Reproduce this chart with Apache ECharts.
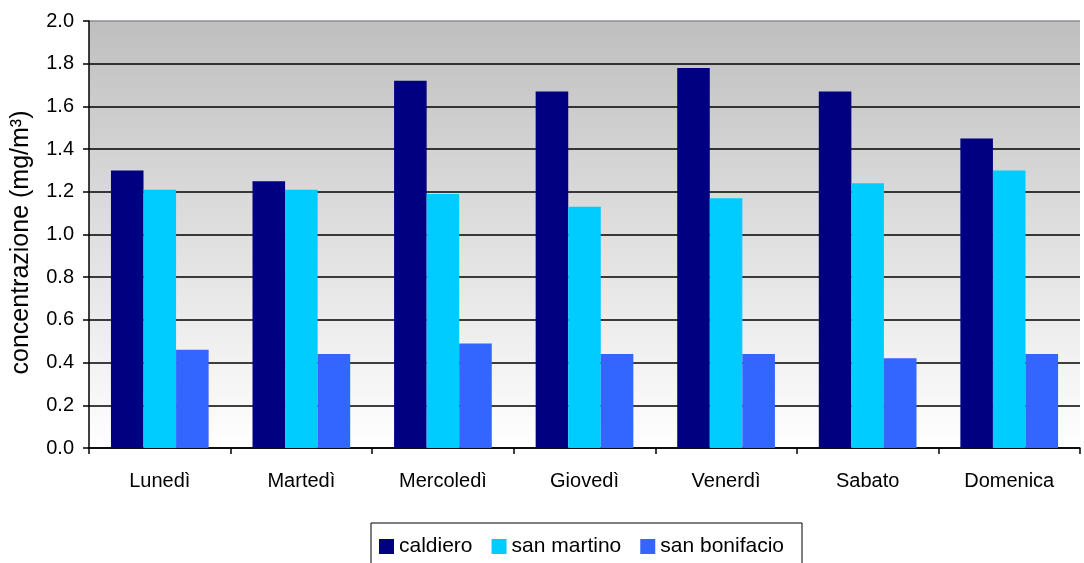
<!DOCTYPE html>
<html>
<head>
<meta charset="utf-8">
<script src="https://cdn.jsdelivr.net/npm/echarts@6/dist/echarts.min.js"></script>
<style>
  html, body { margin: 0; padding: 0; background: #fff; }
  #chart { width: 1084px; height: 563px; }
</style>
</head>
<body>
<div id="chart"></div>
<script>
// Giorni della settimana
const categories = ['Lunedì', 'Martedì', 'Mercoledì', 'Giovedì', 'Venerdì', 'Sabato', 'Domenica'];

// Concentrazione media giornaliera (mg/m³) per stazione
const caldiero = [1.30, 1.25, 1.72, 1.67, 1.78, 1.67, 1.45];
const sanMartino = [1.21, 1.21, 1.19, 1.13, 1.17, 1.24, 1.30];
const sanBonifacio = [0.46, 0.44, 0.49, 0.44, 0.44, 0.42, 0.44];

const seriesNames = ['caldiero', 'san martino', 'san bonifacio'];
const seriesColors = ['#000080', '#00CCFF', '#3366FF'];
const seriesData = [caldiero, sanMartino, sanBonifacio];

const FONT = '"Liberation Sans", Arial, sans-serif';

const chart = echarts.init(document.getElementById('chart'), null, { renderer: 'canvas' });

// colori delle linee di griglia: nere, tranne il bordo superiore (2.0) grigio
const gridLineColors = ['#000', '#000', '#000', '#000', '#000', '#000', '#000', '#000', '#000', '#000', '#8c8c99'];

chart.setOption({
  animation: false,
  backgroundColor: '#ffffff',
  grid: {
    left: 89, right: 4, top: 21, bottom: 115,
    show: true,
    borderWidth: 0,
    backgroundColor: new echarts.graphic.LinearGradient(0, 0, 0, 1, [
      { offset: 0, color: '#bfbfbf' },
      { offset: 1, color: '#ffffff' }
    ])
  },
  legend: {
    left: 371,
    top: 523,
    itemWidth: 15,
    itemHeight: 15,
    itemGap: 19,
    icon: 'rect',
    padding: [13, 18, 20, 8],
    borderColor: '#000',
    borderWidth: 1,
    borderRadius: 0,
    textStyle: { fontFamily: FONT, fontSize: 21, color: '#000' },
    data: seriesNames
  },
  xAxis: {
    type: 'category',
    data: categories,
    boundaryGap: true,
    axisLine: { lineStyle: { color: '#000', width: 1.5 } },
    axisTick: { show: true, length: 6, lineStyle: { color: '#000', width: 1.5 } },
    axisLabel: { fontFamily: FONT, fontSize: 20, color: '#000', margin: 23 },
    splitLine: { show: false }
  },
  yAxis: {
    type: 'value',
    min: 0, max: 2.0, interval: 0.2,
    name: 'concentrazione (mg/m³)',
    nameLocation: 'middle',
    nameGap: 55,
    nameTextStyle: { fontFamily: FONT, fontSize: 25, color: '#000', padding: [0, 16, 0, 0] },
    axisLine: { show: true, lineStyle: { color: '#000', width: 1.5 } },
    axisTick: { show: true, length: 6, inside: false, lineStyle: { color: '#000', width: 1.5 } },
    axisLabel: {
      fontFamily: FONT, fontSize: 20, color: '#000', margin: 15,
      formatter: v => v.toFixed(1)
    },
    splitLine: { show: true, lineStyle: { color: gridLineColors, width: 1.5 } }
  },
  series: seriesNames.map((name, i) => ({
    name,
    type: 'bar',
    data: seriesData[i],
    barGap: '0%',
    barCategoryGap: '31%',
    itemStyle: { color: seriesColors[i] }
  }))
});
</script>
</body>
</html>
